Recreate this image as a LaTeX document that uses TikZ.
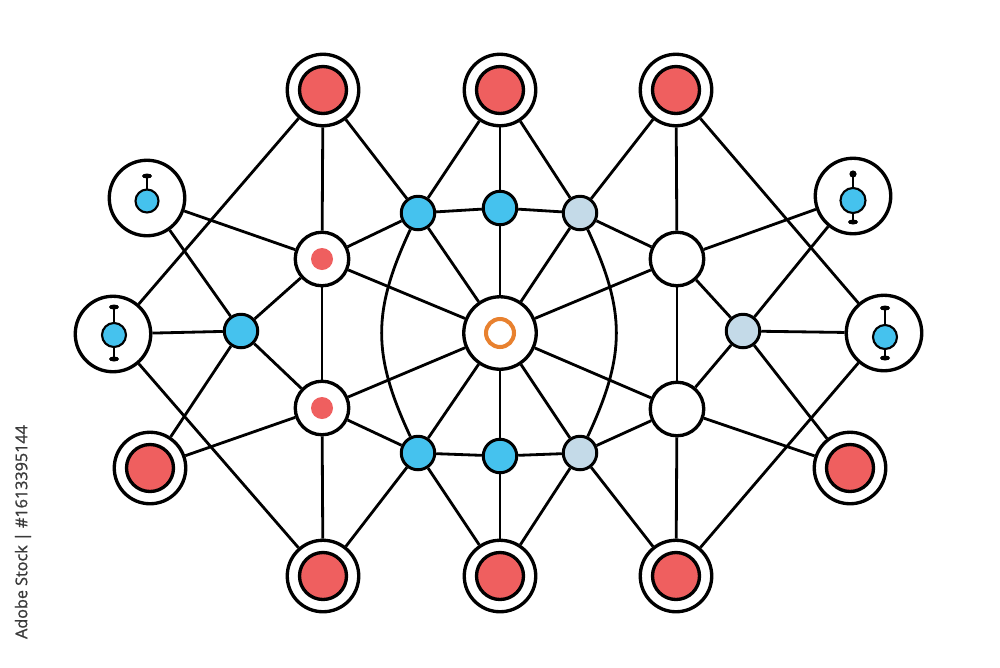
\documentclass[tikz,border=0pt]{standalone}
\usepackage{fontspec}
\newfontfamily\wmfont[FakeBold=1.2]{Open Sans}
\definecolor{nred}{HTML}{EF5F5F}
\definecolor{nblue}{HTML}{45C2EE}
\definecolor{nlight}{HTML}{C4DAE8}
\definecolor{norange}{HTML}{E8812F}
\definecolor{wmgray}{HTML}{3A3A3A}
\tikzset{
  link/.style={line width=1.6pt, black},
  bigred/.style={circle, draw=black, line width=1.9pt, fill=white, inner sep=0pt, minimum size=1.43cm,
    path picture={\draw[line width=1.9pt, fill=nred] (path picture bounding box.center) circle (0.47cm);}},
  pinring/.style={circle, draw=black, line width=1.9pt, fill=white, inner sep=0pt, minimum size=1.51cm},
  whitedot/.style={circle, draw=black, line width=1.9pt, fill=white, inner sep=0pt, minimum size=1.07cm,
    path picture={\fill[nred] (path picture bounding box.center) circle (0.22cm);}},
  whiteplain/.style={circle, draw=black, line width=1.9pt, fill=white, inner sep=0pt, minimum size=1.07cm},
  bluedot/.style={circle, draw=black, line width=1.7pt, fill=nblue, inner sep=0pt, minimum size=0.67cm},
  lightdot/.style={circle, draw=black, line width=1.7pt, fill=nlight, inner sep=0pt, minimum size=0.67cm},
  hub/.style={circle, draw=black, line width=1.9pt, fill=white, inner sep=0pt, minimum size=1.45cm,
    path picture={\draw[norange, line width=2.3pt] (path picture bounding box.center) circle (0.28cm);}},
  pinblue/.style={draw=black, line width=1.2pt, fill=nblue},
  pinstem/.style={black, line width=1.3pt},
}
\begin{document}
\begin{tikzpicture}[x=0.02cm, y=-0.02cm]
\useasboundingbox (0,0) rectangle (1000,667);
% nodes
\node[bigred] (T1) at (323,90) {};
\node[bigred] (T2) at (500,90) {};
\node[bigred] (T3) at (676,90) {};
\node[bigred] (B1) at (323,576) {};
\node[bigred] (B2) at (500,576) {};
\node[bigred] (B3) at (676,576) {};
\node[bigred] (LB) at (150,468) {};
\node[bigred] (RB) at (850,468) {};
\node[pinring] (P1) at (147,198) {};
\node[pinring] (P2) at (113,334) {};
\node[pinring] (P3) at (853,196) {};
\node[pinring] (P4) at (884,333) {};
\node[whitedot] (W1) at (322,259) {};
\node[whitedot] (W2) at (322,408) {};
\node[whiteplain] (W3) at (677,259) {};
\node[whiteplain] (W4) at (677,409) {};
\node[hub] (C) at (500,333) {};
\node[bluedot] (b1) at (241,331) {};
\node[bluedot] (b2) at (418,213) {};
\node[bluedot] (b3) at (500,208) {};
\node[lightdot] (l1) at (580,213) {};
\node[bluedot] (b4) at (418,453) {};
\node[bluedot] (b5) at (500,456) {};
\node[lightdot] (l2) at (580,453) {};
\node[lightdot] (l3) at (743,331) {};
% edges
\foreach \a/\b in {T1/P2, T1/W1, T1/b2, T2/b2, T2/b3, T2/l1, T3/l1, T3/W3, T3/P4,
  B1/P2, B1/W2, B1/b4, B2/b4, B2/b5, B2/l2, B3/l2, B3/W4, B3/P4,
  P1/W1, P1/b1, P2/b1, P3/W3, P3/l3, P4/l3, LB/b1, LB/W2, RB/l3, RB/W4,
  W1/b1, W1/b2, W1/C, W1/W2, W2/b1, W2/C, W2/b4,
  W3/l3, W3/l1, W3/C, W3/W4, W4/l3, W4/C, W4/l2,
  b2/b3, b3/l1, b4/b5, b5/l2, b2/C, b3/C, l1/C, b4/C, b5/C, l2/C}
  \draw[link] (\a) -- (\b);
\draw[link] (b2) to[out=245, in=115, looseness=1.12] (b4);
\draw[link] (l1) to[out=-65, in=65, looseness=1.12] (l2);
% pin icons
\draw[pinstem] (147,189) -- (147,176);
\fill (147,176) ellipse (5 and 2.5);
\draw[pinblue] (147,201) circle (11.5);
\draw[pinstem] (114,323) -- (114,307);
\draw[pinstem] (114,347) -- (114,359);
\fill (114,307) ellipse (5 and 2.5);
\fill (114,359) ellipse (5 and 2.5);
\draw[pinblue] (114,335) circle (12);
\draw[pinstem] (853,188) -- (853,174);
\draw[pinstem] (853,213) -- (853,222);
\fill (853,174) circle (3.6);
\fill (853,222) ellipse (5 and 2.5);
\draw[pinblue] (853,200.5) circle (12.5);
\draw[pinstem] (885,325) -- (885,308);
\draw[pinstem] (885,349) -- (885,358);
\fill (885,308) ellipse (5 and 2.5);
\fill (885,358) ellipse (5 and 2.5);
\draw[pinblue] (885,337) circle (12);
% watermark caption
\node[rotate=90, text=wmgray, font=\wmfont\fontsize{9.2pt}{11pt}\selectfont, inner sep=0pt] (wm) at (23,532) {Adobe Stock | \#1613395144};
\end{tikzpicture}
\end{document}
